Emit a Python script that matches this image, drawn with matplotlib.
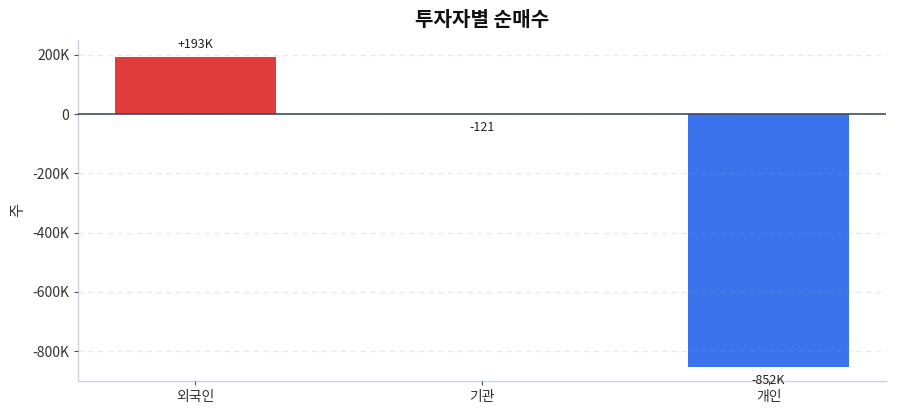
import matplotlib
matplotlib.use("Agg")
import matplotlib.pyplot as plt
from matplotlib.ticker import FuncFormatter

plt.rcParams['font.family'] = ['Noto Sans CJK KR', 'DejaVu Sans']

categories = ['외국인', '기관', '개인']
values = [193000, -121, -852000]
labels = ['+193K', '-121', '-852K']
colors = ['#e03c3c', '#e03c3c', '#3b73ec']

fig = plt.figure(figsize=(9, 4.2), dpi=100)
ax = fig.add_axes([0.087, 0.093, 0.897, 0.812])

x = range(len(categories))
bars = ax.bar(x, values, width=0.56, color=colors, zorder=2)
ax.set_xticks(list(x))
ax.set_xticklabels(categories)

ax.set_ylim(-900000, 250000)
ax.set_yticks([200000, 0, -200000, -400000, -600000, -800000])

def fmt(v, pos):
    if v == 0:
        return '0'
    return f'{int(round(v/1000))}K'
ax.yaxis.set_major_formatter(FuncFormatter(fmt))

ax.grid(axis='y', linestyle=(0, (4, 3)), color='#94a3b8', alpha=0.22, linewidth=1.0, zorder=3)
ax.set_axisbelow(False)
ax.axhline(0, color='#334155', linewidth=1.1, zorder=4)

for s in ['top', 'right']:
    ax.spines[s].set_visible(False)
for s in ['left', 'bottom']:
    ax.spines[s].set_color('#cbd5e1')
    ax.spines[s].set_linewidth(1.0)

ax.tick_params(axis='both', labelsize=10, length=3)
ax.tick_params(axis='y', colors='#475569', labelcolor='#333333')
ax.tick_params(axis='x', colors='#475569', labelcolor='#333333')

ax.set_ylabel('주', fontsize=11, color='#333333')
ax.set_title('투자자별 순매수', fontsize=14.5, fontweight='bold', color='#111111', pad=10)

for xi, v, lab in zip(x, values, labels):
    if v >= 0:
        ax.annotate(lab, (xi, v), xytext=(0, 4), textcoords='offset points',
                    ha='center', va='bottom', fontsize=9, color='#222222', zorder=5)
    else:
        ax.annotate(lab, (xi, v), xytext=(0, -5), textcoords='offset points',
                    ha='center', va='top', fontsize=9, color='#222222', zorder=5)

fig.savefig('out.png', dpi=100)
